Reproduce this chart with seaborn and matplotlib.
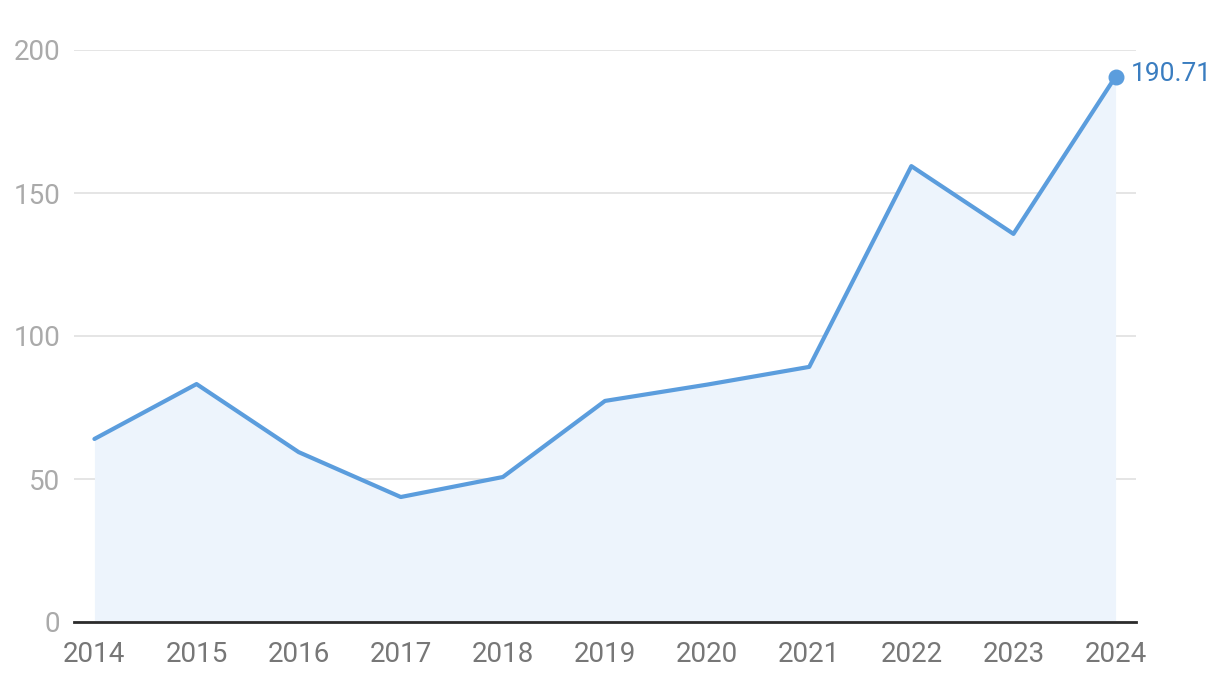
import matplotlib
matplotlib.use("Agg")
import matplotlib.pyplot as plt
import seaborn as sns
import pandas as pd

years = [2014, 2015, 2016, 2017, 2018, 2019, 2020, 2021, 2022, 2023, 2024]
values = [64.0, 83.2, 59.4, 43.7, 50.7, 77.3, 83.0, 89.2, 159.4, 135.7, 190.71]
yticks = [0, 50, 100, 150, 200]

df = pd.DataFrame({"year": years, "value": values})

sns.set_style("white")
plt.rcParams['font.family'] = ['Roboto', 'DejaVu Sans']

line_color = "#5b9ddd"
fig = plt.figure(figsize=(12.2, 6.8), dpi=100)
ax = fig.add_axes([74 / 1220, 58 / 680, 1062 / 1220, 572 / 680])

ax.fill_between(df["year"], 0, df["value"], color="#edf4fc", linewidth=0, zorder=1)
sns.lineplot(ax=ax, data=df, x="year", y="value", color=line_color, linewidth=3, zorder=3)

# end point marker + label
last = df.iloc[-1]
ax.scatter([last["year"]], [last["value"]], s=110, color=line_color, zorder=4, clip_on=False)
ax.annotate(f"{last['value']:.2f}", (last["year"], last["value"]), xytext=(11, 2),
            textcoords="offset points", va="center", ha="left", fontsize=19,
            color="#3a7dc0", annotation_clip=False)

ax.set_xlim(2013.8, 2024.2)
ax.set_ylim(0, 200)
ax.set_xticks(years)
ax.set_xticklabels([str(y) for y in years])
ax.set_yticks(yticks)
ax.yaxis.grid(True, color="#e3e3e3", linewidth=1.3)
ax.set_axisbelow(True)
for s in ["top", "right", "left"]:
    ax.spines[s].set_visible(False)
ax.spines["bottom"].set_color("#2b2b2b")
ax.spines["bottom"].set_linewidth(2)
ax.tick_params(axis="x", length=0, pad=14, labelsize=20, labelcolor="#777777")
ax.tick_params(axis="y", length=0, pad=10, labelsize=20, labelcolor="#aaaaaa")
ax.set_xlabel("")
ax.set_ylabel("")

fig.savefig("out.png", dpi=100)
